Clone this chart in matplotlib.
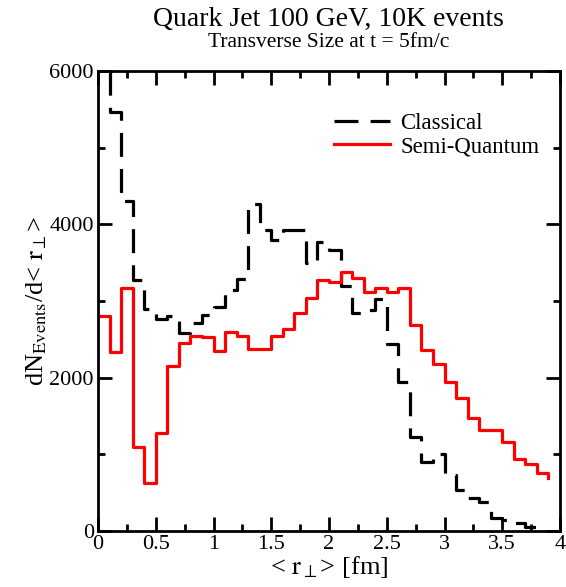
import numpy as np
import matplotlib
matplotlib.use("Agg")
import matplotlib.pyplot as plt
from matplotlib.ticker import MultipleLocator

plt.rcParams['font.family'] = ['Liberation Serif', 'DejaVu Serif']
plt.rcParams['mathtext.fontset'] = 'stix'

# bin left edges (fm), last entry closes the final step
r_classical = [0.0, 0.1, 0.2, 0.3, 0.4, 0.5, 0.6, 0.7, 0.8, 0.9,
               1.0, 1.1, 1.2, 1.3, 1.4, 1.5, 1.6, 1.7, 1.8, 1.9,
               2.0, 2.1, 2.2, 2.3, 2.4, 2.5, 2.6, 2.7, 2.8, 2.9,
               3.0, 3.1, 3.2, 3.3, 3.4, 3.5, 3.6, 3.7, 3.8]
n_classical = [7500, 5470, 4300, 3270, 2900, 2760, 2800, 2580, 2710, 2820,
               2925, 3140, 3290, 4270, 3920, 3800, 3920, 3920, 3490, 3770,
               3670, 3190, 2850, 2880, 3030, 2440, 1940, 1230, 905, 1010,
               730, 535, 425, 380, 165, 145, 110, 50, 0]

r_semi = [0.0, 0.1, 0.2, 0.3, 0.4, 0.5, 0.6, 0.7, 0.8, 0.9,
          1.0, 1.1, 1.2, 1.3, 1.4, 1.5, 1.6, 1.7, 1.8, 1.9,
          2.0, 2.1, 2.2, 2.3, 2.4, 2.5, 2.6, 2.7, 2.8, 2.9,
          3.0, 3.1, 3.2, 3.3, 3.4, 3.5, 3.6, 3.7, 3.8, 3.9]
n_semi = [2800, 2335, 3175, 1090, 620, 1275, 2150, 2455, 2540, 2525,
          2350, 2600, 2550, 2375, 2370, 2545, 2630, 2850, 3035, 3280,
          3250, 3375, 3300, 3120, 3170, 3120, 3165, 2685, 2360, 2175,
          1940, 1740, 1480, 1315, 1315, 1165, 940, 870, 760, 690]

x_ticks = [0, 0.5, 1, 1.5, 2, 2.5, 3, 3.5, 4]
x_ticklabels = ['0', '0.5', '1', '1.5', '2', '2.5', '3', '3.5', '4']

fig = plt.figure(figsize=(5.66, 5.87), dpi=100)
ax = fig.add_axes([98 / 566, 1 - 531 / 587, 462 / 566, 460 / 587])

ax.step(r_classical, n_classical, where='post', color='black', lw=2.3,
        linestyle=(0, (7.5, 3.8)), label='Classical')
ax.step(r_semi, n_semi, where='post', color='red', lw=2.3, label='Semi-Quantum')

ax.set_xlim(0, 4)
ax.set_ylim(0, 6000)
ax.xaxis.set_minor_locator(MultipleLocator(0.25))
ax.yaxis.set_major_locator(MultipleLocator(2000))
ax.yaxis.set_minor_locator(MultipleLocator(1000))
ax.set_xticks(x_ticks)
ax.set_xticklabels(x_ticklabels)
ax.tick_params(which='both', direction='in', top=True, right=True, width=2,
               labelsize=16, pad=3)
ax.tick_params(which='major', length=10)
ax.tick_params(which='minor', length=5)
for s in ax.spines.values():
    s.set_linewidth(2)

ax.set_xlabel(r'< $\mathrm{r}_\perp$> [fm]', fontsize=19, labelpad=0)
ax.set_ylabel(r'dN$_{\mathrm{Events}}$/d< $\mathrm{r}_\perp$>', fontsize=19,
              labelpad=0)

fig.text(0.581, 1 - 26 / 587, 'Quark Jet 100 GeV, 10K events', ha='center',
         va='baseline', fontsize=20)
fig.text(0.581, 1 - 47 / 587, 'Transverse Size at t = 5fm/c', ha='center',
         va='baseline', fontsize=15.5)

ax.legend(loc='upper right', bbox_to_anchor=(1.0, 0.954), frameon=False,
          fontsize=16.4, handlelength=2.45, handletextpad=0.45,
          labelspacing=0.12)

fig.savefig('out.png', dpi=100)
